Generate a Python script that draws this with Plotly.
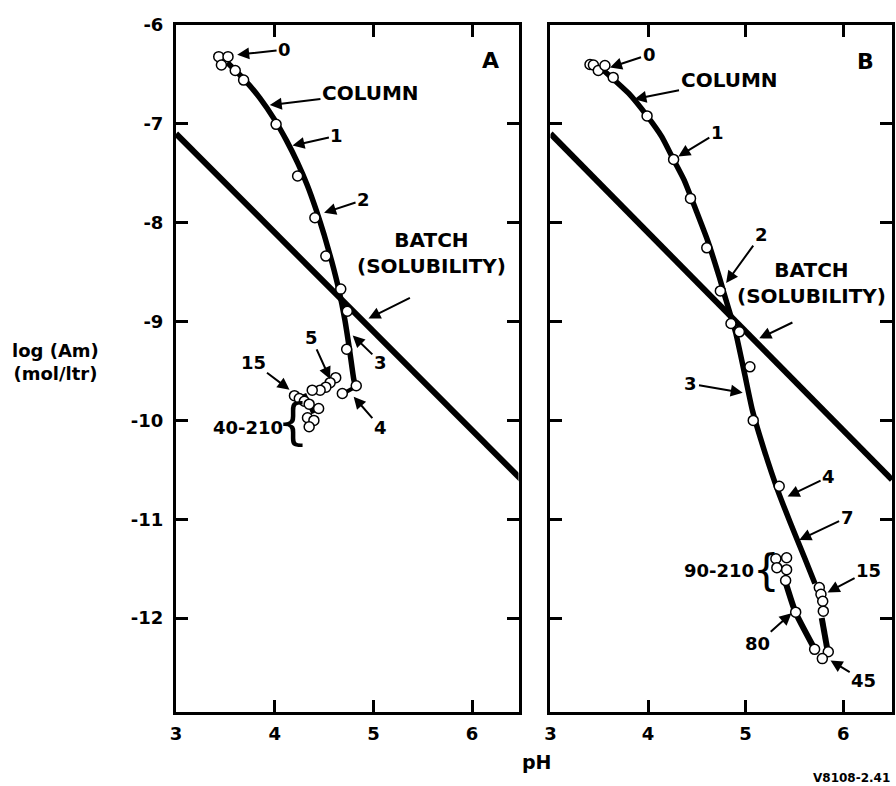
import plotly.graph_objects as go

# ---------------- data ----------------
# Batch (solubility) line, both panels
batch_ph = [3.0, 6.5]
batch_log = [-7.10, -10.60]

# Panel A column curve
A_curve_ph = [3.52, 3.70, 3.85, 4.00, 4.12, 4.23, 4.33, 4.42, 4.50, 4.58, 4.65, 4.71, 4.76, 4.80, 4.82]
A_curve_log = [-6.38, -6.56, -6.74, -6.96, -7.17, -7.39, -7.62, -7.87, -8.12, -8.40, -8.68, -8.98, -9.30, -9.58, -9.66]
A_seg1_ph = [4.82, 4.69]
A_seg1_log = [-9.66, -9.73]
A_seg2_ph = [4.30, 4.39]
A_seg2_log = [-9.73, -9.93]

# Panel A measured points
A_pts_ph = [3.433, 3.527, 3.46, 3.60, 3.685, 4.014, 4.232, 4.407, 4.518, 4.669, 4.735, 4.729,
            4.826, 4.685, 4.618, 4.561, 4.518, 4.46, 4.38, 4.20, 4.249, 4.30, 4.349, 4.445,
            4.332, 4.397, 4.349]
A_pts_log = [-6.32, -6.32, -6.405, -6.46, -6.557, -7.005, -7.528, -7.95, -8.338, -8.672, -8.895, -9.28,
             -9.65, -9.728, -9.568, -9.618, -9.664, -9.694, -9.694, -9.75, -9.778, -9.806, -9.836, -9.88,
             -9.973, -10.0, -10.064]

# Panel B column curve
B_curve_ph = [3.50, 3.54, 3.80, 3.99, 4.14, 4.26, 4.37, 4.49, 4.61, 4.73, 4.78, 4.85, 4.90, 4.99,
              5.07, 5.19, 5.33, 5.46, 5.60, 5.71]
B_curve_log = [-6.42, -6.455, -6.69, -6.92, -7.13, -7.36, -7.57, -7.87, -8.18, -8.55, -8.72, -8.95,
               -9.12, -9.53, -9.90, -10.30, -10.71, -11.04, -11.38, -11.65]
B_seg1_ph = [5.41, 5.51, 5.70]
B_seg1_log = [-11.64, -11.94, -12.30]
B_seg2_ph = [5.78, 5.84]
B_seg2_log = [-12.00, -12.33]

# Panel B measured points
B_pts_ph = [3.405, 3.44, 3.49, 3.558, 3.643, 3.99, 4.262, 4.435, 4.602, 4.741, 4.85, 4.936, 5.044,
            5.078, 5.344, 5.755, 5.772, 5.79, 5.796, 5.847, 5.786, 5.707, 5.513, 5.41, 5.31, 5.42,
            5.32, 5.42]
B_pts_log = [-6.40, -6.405, -6.46, -6.41, -6.53, -6.92, -7.36, -7.754, -8.254, -8.69, -9.02, -9.104,
             -9.458, -10.0, -10.666, -11.69, -11.76, -11.83, -11.93, -12.34, -12.41, -12.316, -11.94,
             -11.62, -11.40, -11.39, -11.49, -11.51]

x_tick_vals = [3, 4, 5, 6]
x_tick_text = ["3", "4", "5", "6"]
y_tick_vals = [-6, -7, -8, -9, -10, -11, -12]
y_tick_text = ["-6", "-7", "-8", "-9", "-10", "-11", "-12"]

# annotations: (panel, text, tip_x, tip_y, label_x, label_y)
A_labels = [
    ("1", "0", 3.62, -6.30, 4.10, -6.25),
    ("1", "COLUMN", 3.95, -6.81, 4.97, -6.69),
    ("1", "1", 4.18, -7.22, 4.63, -7.12),
    ("1", "2", 4.50, -7.90, 4.90, -7.77),
    ("1", "3", 4.79, -9.14, 5.07, -9.41),
    ("1", "4", 4.80, -9.76, 5.07, -10.07),
    ("1", "5", 4.56, -9.58, 4.37, -9.16),
    ("1", "15", 4.15, -9.69, 3.78, -9.41),
    ("2", "0", 3.61, -6.43, 4.01, -6.30),
    ("2", "COLUMN", 3.86, -6.75, 4.83, -6.56),
    ("2", "1", 4.31, -7.33, 4.71, -7.09),
    ("2", "2", 4.80, -8.61, 5.16, -8.12),
    ("2", "3", 4.97, -9.72, 4.44, -9.63),
    ("2", "4", 5.43, -10.77, 5.85, -10.57),
    ("2", "7", 5.55, -11.21, 6.04, -10.98),
    ("2", "15", 5.84, -11.74, 6.26, -11.52),
    ("2", "80", 5.47, -11.95, 5.12, -12.26),
    ("2", "45", 5.87, -12.43, 6.21, -12.63),
]
batch_arrows = [("1", 4.95, -8.97, 5.39, -8.75), ("2", 5.14, -9.17, 5.50, -9.00)]
batch_text_pos = [("1", 5.59, -8.31), ("2", 5.68, -8.61)]
range_labels = [("1", "40-210", 4.10, -10.07, 4.19, -10.02, 50), ("2", "90-210", 5.105, -11.52, 5.21, -11.52, 42)]
panel_letters = [("1", "A", 6.19, -6.36), ("2", "B", 6.23, -6.37)]

FONT = "DejaVu Sans"
BLACK = "black"

fig = go.Figure()

def line(xs, ys, xa, ya, w):
    fig.add_trace(go.Scatter(x=xs, y=ys, mode="lines", xaxis=xa, yaxis=ya,
                             line=dict(color=BLACK, width=w, shape="spline", smoothing=0.5),
                             showlegend=False, hoverinfo="skip"))

def pts(xs, ys, xa, ya):
    fig.add_trace(go.Scatter(x=xs, y=ys, mode="markers", xaxis=xa, yaxis=ya,
                             marker=dict(size=10, color="white", line=dict(color=BLACK, width=1.5)),
                             showlegend=False, hoverinfo="skip"))

# panel A
line(batch_ph, batch_log, "x", "y", 6)
line(A_curve_ph, A_curve_log, "x", "y", 5.5)
line(A_seg1_ph, A_seg1_log, "x", "y", 4)
line(A_seg2_ph, A_seg2_log, "x", "y", 4)
pts(A_pts_ph, A_pts_log, "x", "y")
# panel B
line(batch_ph, batch_log, "x2", "y2", 6)
line(B_curve_ph, B_curve_log, "x2", "y2", 5.5)
line(B_seg1_ph, B_seg1_log, "x2", "y2", 6)
line(B_seg2_ph, B_seg2_log, "x2", "y2", 6)
pts(B_pts_ph, B_pts_log, "x2", "y2")

ax_common = dict(showline=True, linewidth=3, linecolor=BLACK, mirror="ticks", ticks="inside",
                 ticklen=12, tickwidth=2.5, tickcolor=BLACK, showgrid=False, zeroline=False,
                 tickfont=dict(family=FONT, size=18, color=BLACK, weight="bold"))

fig.update_layout(
    width=896, height=786,
    margin=dict(l=176, r=1, t=25, b=74),
    paper_bgcolor="white", plot_bgcolor="white",
    font=dict(family=FONT, color=BLACK),
    xaxis=dict(domain=[0, 0.4784], range=[3, 6.47], tickvals=x_tick_vals, ticktext=x_tick_text,
               ticklabelstandoff=3, **ax_common),
    xaxis2=dict(domain=[0.523, 1.0], range=[3, 6.5], tickvals=x_tick_vals, ticktext=x_tick_text,
                ticklabelstandoff=3, anchor="y2", **ax_common),
    yaxis=dict(range=[-12.95, -6], tickvals=y_tick_vals, ticktext=y_tick_text,
               ticklabelstandoff=6, anchor="x", **ax_common),
    yaxis2=dict(range=[-12.95, -6], tickvals=y_tick_vals, showticklabels=False,
                anchor="x2", **ax_common),
)

anns = []
num_font = dict(family=FONT, size=18, color=BLACK, weight="bold")
word_font = dict(family=FONT, size=20, color=BLACK, weight="bold")
for panel, txt, tx, ty, lx, ly in A_labels:
    xr = "x" if panel == "1" else "x2"
    yr = "y" if panel == "1" else "y2"
    anns.append(dict(x=tx, y=ty, ax=lx, ay=ly, xref=xr, yref=yr, axref=xr, ayref=yr,
                     text=txt, showarrow=True, arrowhead=2, arrowsize=1.2, arrowwidth=2,
                     arrowcolor=BLACK, borderpad=1,
                     font=word_font if len(txt) > 2 else num_font))
for panel, tx, ty, lx, ly in batch_arrows:
    xr = "x" if panel == "1" else "x2"
    yr = "y" if panel == "1" else "y2"
    anns.append(dict(x=tx, y=ty, ax=lx, ay=ly, xref=xr, yref=yr, axref=xr, ayref=yr,
                     text=" ", showarrow=True, arrowhead=2, arrowsize=1.2, arrowwidth=2,
                     arrowcolor=BLACK, font=dict(size=2)))
for panel, lx, ly in batch_text_pos:
    xr = "x" if panel == "1" else "x2"
    yr = "y" if panel == "1" else "y2"
    anns.append(dict(x=lx, y=ly, xref=xr, yref=yr, text="BATCH<br>(SOLUBILITY)",
                     showarrow=False, align="center", font=word_font))
for panel, txt, lx, ly, bx, by, bsize in range_labels:
    xr = "x" if panel == "1" else "x2"
    yr = "y" if panel == "1" else "y2"
    anns.append(dict(x=lx, y=ly, xref=xr, yref=yr, text=txt, showarrow=False,
                     xanchor="right", font=num_font))
    anns.append(dict(x=bx, y=by, xref=xr, yref=yr, text="{", showarrow=False,
                     font=dict(family=FONT, size=bsize, color=BLACK)))
for panel, txt, lx, ly in panel_letters:
    xr = "x" if panel == "1" else "x2"
    yr = "y" if panel == "1" else "y2"
    anns.append(dict(x=lx, y=ly, xref=xr, yref=yr, text=txt, showarrow=False,
                     font=dict(family=FONT, size=22, color=BLACK, weight="bold")))

anns.append(dict(x=-0.168, y=0.5095, xref="paper", yref="paper", text="log (Am)<br>(mol/ltr)",
                 showarrow=False, align="center", xanchor="center", yanchor="middle",
                 font=dict(family=FONT, size=18, color=BLACK, weight="bold")))
anns.append(dict(x=0.5035, y=-0.0728, xref="paper", yref="paper", text="pH", showarrow=False,
                 xanchor="center", yanchor="middle",
                 font=dict(family=FONT, size=19, color=BLACK, weight="bold")))
anns.append(dict(x=1.0, y=-0.0961, xref="paper", yref="paper", text="V8108-2.41", showarrow=False,
                 xanchor="right", yanchor="middle",
                 font=dict(family=FONT, size=12, color=BLACK, weight="bold")))

fig.update_layout(annotations=anns)
fig.write_html("out.html")
